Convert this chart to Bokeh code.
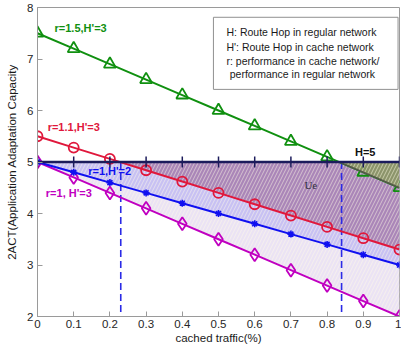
import numpy as np
from bokeh.plotting import figure
from bokeh.models import FixedTicker
from bokeh.core.properties import value
from bokeh.embed import file_html
from bokeh.resources import INLINE

# ---------------- data ----------------
cached = [0.0, 0.1, 0.2, 0.3, 0.4, 0.5, 0.6, 0.7, 0.8, 0.9, 1.0]
r15_h3 = [7.5, 7.2, 6.9, 6.6, 6.3, 6.0, 5.7, 5.4, 5.1, 4.8, 4.5]
r11_h3 = [5.5, 5.28, 5.06, 4.84, 4.62, 4.40, 4.18, 3.96, 3.74, 3.52, 3.30]
r1_h2 = [5.0, 4.8, 4.6, 4.4, 4.2, 4.0, 3.8, 3.6, 3.4, 3.2, 3.0]
r1_h3 = [5.0, 4.7, 4.4, 4.1, 3.8, 3.5, 3.2, 2.9, 2.6, 2.3, 2.0]
h5 = [5, 5, 5, 5, 5, 5, 5, 5, 5, 5, 5]
cross_x = [0.23, 0.84]
x_ticks = [0.0, 0.1, 0.2, 0.3, 0.4, 0.5, 0.6, 0.7, 0.8, 0.9, 1.0]
x_tick_labels = ["0", "0.1", "0.2", "0.3", "0.4", "0.5", "0.6", "0.7", "0.8", "0.9", "1"]
y_ticks = [2, 3, 4, 5, 6, 7, 8]
series_labels = ["r=1.5,H'=3", "r=1.1,H'=3", "r=1,H'=2", "r=1, H'=3"]
legend_lines = ["H: Route Hop in regular network",
                "H': Route Hop in cache network",
                "r: performance in cache network/",
                "performance in regular network"]
level_label = "H=5"
region_label = "Ue"

FONT = "Liberation Sans"
x = np.array(cached)


def below_part(xv, yv, level):
    """portion of a decreasing series that lies below level, starting at the crossing"""
    yv = np.array(yv, dtype=float)
    xc = float(np.interp(level, yv[::-1], xv[::-1]))
    m = xv > xc
    return np.concatenate([[xc], xv[m]]), np.concatenate([[level], yv[m]])


p = figure(width=401, height=348, x_range=(0, 1), y_range=(2, 8),
           output_backend="svg", toolbar_location=None,
           min_border_left=37, min_border_right=2, min_border_top=7,
           min_border_bottom=32)
p.grid.visible = False
p.outline_line_color = "#9a9a9a"
p.background_fill_color = "white"
p.border_fill_color = "white"

# ---- shaded regions ----
hatch = dict(hatch_pattern="/", hatch_color="#fffbe8", hatch_alpha=0.5,
             hatch_scale=7, hatch_weight=1)
p.varea(x=x, y1=np.array(r1_h3), y2=np.array(h5), fill_color="#ebe3f4", **hatch)
p.varea(x=x, y1=np.array(r1_h2), y2=np.array(h5), fill_color="#c8c1f3", **hatch)
xr, yr = below_part(x, r11_h3, 5)
p.varea(x=xr, y1=yr, y2=np.full(len(xr), 5.0), fill_color="#aa86b8", **hatch)

# ---- dashed vertical lines ----
for cx in cross_x:
    p.line([cx, cx], [5, 2], line_color="#2a2ae6", line_width=1.6, line_dash="7 4")

# ---- series ----
p.line(x, r1_h3, line_color="#c000c0", line_width=2)
p.scatter(x, r1_h3, marker="diamond", size=13, fill_color=None,
          line_color="#c000c0", line_width=1.8)

p.line(x, r1_h2, line_color="#1010f0", line_width=2)
p.scatter(x, r1_h2, marker="asterisk", size=7, line_color="#1010f0", line_width=1.6)

p.line(x, r11_h3, line_color="#e0183c", line_width=2)
p.scatter(x, r11_h3, marker="circle", size=10, fill_color=None,
          line_color="#e0183c", line_width=1.8)

p.line(x, r15_h3, line_color="#109010", line_width=2)
p.scatter(x, r15_h3, marker="triangle", size=12, fill_color=None,
          line_color="#109010", line_width=1.8)

xg, yg = below_part(x, r15_h3, 5)
p.varea(x=xg, y1=yg, y2=np.full(len(xg), 5.0), fill_color="#8a9664",
        fill_alpha=0.92, **hatch)
p.line(xg, yg, line_color="#55584a", line_width=1.5)

# ---- H=5 line ----
p.line(x, h5, line_color="#1c1c5c", line_width=2.5)
p.scatter(x, h5, marker="cross", size=11, line_color="#1c1c5c", line_width=1.5)

# ---- labels ----
lab = dict(text_font=value(FONT), text_font_size="11px", text_font_style="bold",
           text_baseline="middle", text_align="left")
p.text([0.047], [7.60], text=[series_labels[0]], text_color="#109010", **lab)
p.text([0.028], [5.68], text=[series_labels[1]], text_color="#e0183c", **lab)
p.text([0.14], [4.82], text=[series_labels[2]], text_color="#1010f0", **lab)
p.text([0.023], [4.40], text=[series_labels[3]], text_color="#c000c0", **lab)
p.text([0.877], [5.20], text=[level_label], text_color="#111111", **lab)
p.text([0.755], [4.55], text=[region_label], text_color="#303040",
       text_font=value("Liberation Serif"), text_font_size="11px",
       text_baseline="middle", text_align="center")

# ---- legend box ----
p.quad(left=[0.486], right=[0.996], bottom=[6.41], top=[7.81],
       fill_color="white", line_color="#909090", line_width=1)
p.text([0.522, 0.522, 0.522, 0.531], [7.52, 7.23, 6.96, 6.70], text=legend_lines,
       text_font=value(FONT), text_font_size="10.5px", text_color="#1a1a1a",
       text_baseline="middle", text_align="left")

# ---- axes ----
p.xaxis.ticker = FixedTicker(ticks=x_ticks)
p.xaxis.major_label_overrides = {t: l for t, l in zip(x_ticks, x_tick_labels)}
p.yaxis.ticker = FixedTicker(ticks=y_ticks)
p.xaxis.axis_label = "cached traffic(%)"
p.yaxis.axis_label = "2ACT(Application Adaptation Capacity"
for ax in (p.xaxis, p.yaxis):
    ax.axis_line_color = "#9a9a9a"
    ax.major_tick_line_color = "#9a9a9a"
    ax.major_tick_in = 5
    ax.major_tick_out = 0
    ax.minor_tick_line_color = None
    ax.major_label_text_font = FONT
    ax.major_label_text_font_size = "11.5px"
    ax.major_label_text_color = "#262626"
    ax.axis_label_text_font = FONT
    ax.axis_label_text_font_size = "11.5px"
    ax.axis_label_text_font_style = "normal"
    ax.axis_label_text_color = "#1a1a1a"
p.xaxis.major_label_standoff = 3
p.xaxis.axis_label_standoff = 1
p.yaxis.major_label_standoff = 4
p.yaxis.axis_label_standoff = 6

open("out.html", "w").write(file_html(p, INLINE))
